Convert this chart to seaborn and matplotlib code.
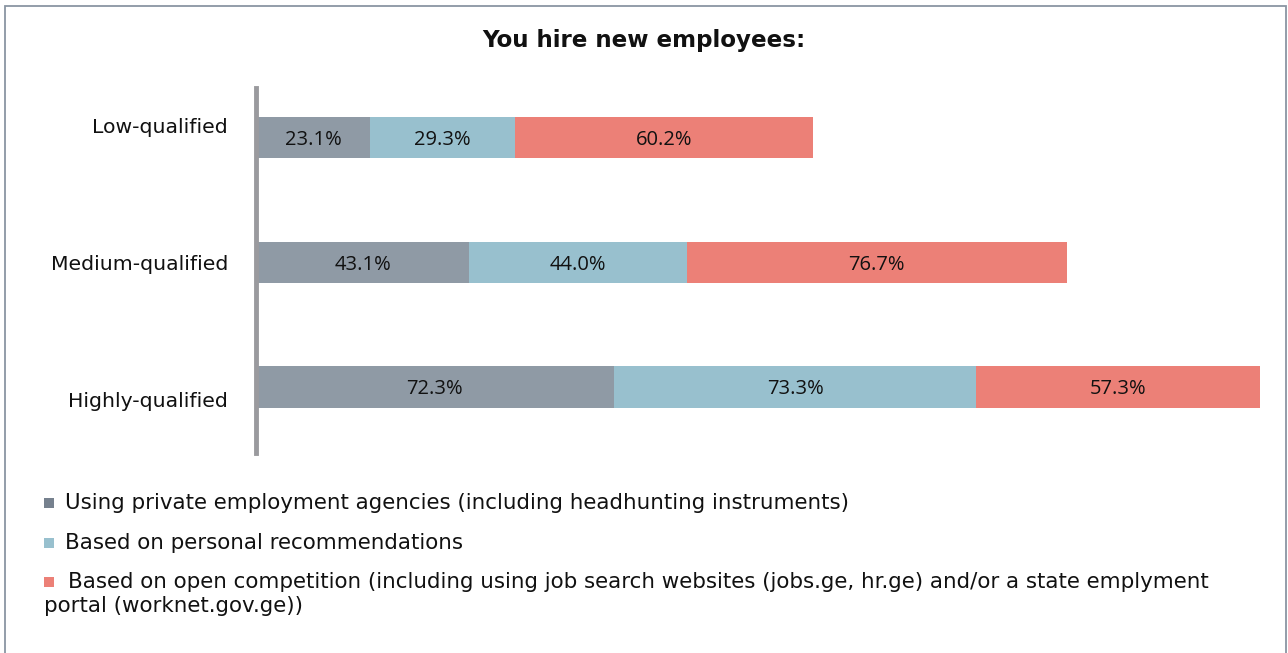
import matplotlib
matplotlib.use("Agg")
import matplotlib.pyplot as plt
from matplotlib.patches import Rectangle
from matplotlib.transforms import ScaledTranslation
import pandas as pd
import seaborn as sns

# Survey results: share of firms using each hiring channel, by qualification level
categories = ["Low-qualified", "Medium-qualified", "Highly-qualified"]
agencies = [23.1, 43.1, 72.3]
recommendations = [29.3, 44.0, 73.3]
competition = [60.2, 76.7, 57.3]

series_labels = [
    "Using private employment agencies (including headhunting instruments)",
    "Based on personal recommendations",
    "Based on open competition (including using job search websites (jobs.ge, hr.ge) and/or a state emplyment\n"
    "portal (worknet.gov.ge))",
]
bar_colors = ["#8f9aa5", "#98c0ce", "#ec8077"]
legend_colors = ["#76818e", "#98c0ce", "#ec8077"]
title = "You hire new employees:"

sns.set_theme(style="white")
plt.rcParams["font.family"] = ["DejaVu Sans"]

W, H = 1288, 653
fig = plt.figure(figsize=(W / 100, H / 100), dpi=100)
ax = fig.add_axes([256 / W, 1 - 453 / H, 1004 / W, 365 / H])

df = pd.DataFrame({"category": categories, "s1": agencies, "s2": recommendations, "s3": competition})
df["c1"] = df["s1"]
df["c2"] = df["c1"] + df["s2"]
df["c3"] = df["c2"] + df["s3"]

# Stacked bars: draw cumulative totals from longest to shortest
for col, color in zip(["c3", "c2", "c1"], bar_colors[::-1]):
    sns.barplot(data=df, y="category", x=col, color=color, width=0.33, orient="h",
                saturation=1, errorbar=None, linewidth=0, ax=ax)

# Segment value labels
for series, cum in zip(["s1", "s2", "s3"], ["c1", "c2", "c3"]):
    for i, (v, end) in enumerate(zip(df[series], df[cum])):
        ax.text(end - v / 2, i + 0.02, f"{v:.1f}%", ha="center", va="center",
                fontsize=14.5, family=["Open Sans", "DejaVu Sans"], color="#111111")

ax.set_xlim(0, df["c3"].max())
ax.set_ylim(2.53, -0.40)
ax.set_xlabel("")
ax.set_ylabel("")
ax.set_xticks([])
for side in ["top", "right", "bottom"]:
    ax.spines[side].set_visible(False)
ax.spines["left"].set_color("#9a9a9e")
ax.spines["left"].set_linewidth(3.5)
ax.tick_params(axis="y", length=0, pad=20, labelsize=14.7, labelcolor="#111111")

# Category labels sit slightly spread apart from the bar centres
for lab, dy in zip(ax.get_yticklabels(), [0.125, 0.0, -0.125]):
    lab.set_transform(lab.get_transform() + ScaledTranslation(0, dy, fig.dpi_scale_trans))

fig.text(0.5, 1 - 40 / H, title, ha="center", va="center", fontsize=16.6,
         fontweight="bold", color="#111111")

# Legend drawn as a vertical list beneath the plot
rows_y = [503, 543, 582]
text_x = [65, 65, 68]
for color, label, y, tx in zip(legend_colors, series_labels, rows_y, text_x):
    fig.patches.append(Rectangle((44 / W, 1 - (y + 5) / H), 10 / W, 10 / H,
                                 transform=fig.transFigure, facecolor=color, edgecolor="none"))
    lines = label.split("\n")
    fig.text(tx / W, 1 - y / H, lines[0], ha="left", va="center", fontsize=15.4, color="#111111")
    for k, extra in enumerate(lines[1:], start=1):
        fig.text(44 / W, 1 - (y + 24 * k) / H, extra, ha="left", va="center",
                 fontsize=15.4, color="#111111")

# Outer frame
fig.patches.append(Rectangle((5 / W, -0.02), (1286 - 5) / W, 1.02 - 6 / H,
                             transform=fig.transFigure, fill=False,
                             edgecolor="#8a95a2", linewidth=1.3))

fig.savefig("out.png", dpi=100)
